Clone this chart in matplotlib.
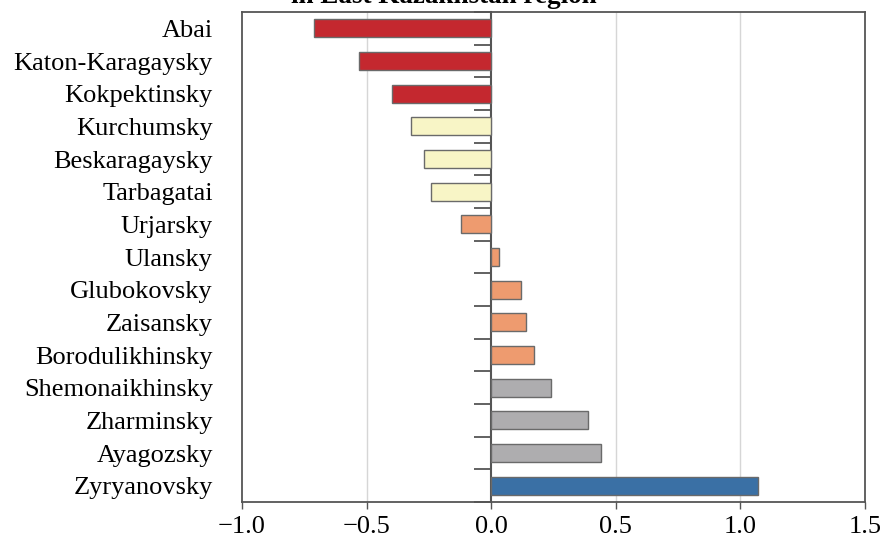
import matplotlib
matplotlib.use('Agg')
import matplotlib.pyplot as plt

# districts, top to bottom
districts = ['Abai', 'Katon-Karagaysky', 'Kokpektinsky', 'Kurchumsky', 'Beskaragaysky',
             'Tarbagatai', 'Urjarsky', 'Ulansky', 'Glubokovsky', 'Zaisansky',
             'Borodulikhinsky', 'Shemonaikhinsky', 'Zharminsky', 'Ayagozsky', 'Zyryanovsky']
values = [-0.71, -0.53, -0.40, -0.32, -0.27, -0.24, -0.12, 0.03, 0.12, 0.14,
          0.17, 0.24, 0.39, 0.44, 1.07]
groups = ['red', 'red', 'red', 'yellow', 'yellow', 'yellow', 'orange', 'orange', 'orange',
          'orange', 'orange', 'gray', 'gray', 'gray', 'blue']

palette = {'red': '#C4282F', 'yellow': '#F8F5C6', 'orange': '#EE9B6F',
           'gray': '#AEADAF', 'blue': '#3A70A5'}

plt.rcParams['font.family'] = ['Liberation Serif', 'DejaVu Serif']

fig = plt.figure(figsize=(8.87, 5.39), dpi=100)
ax = fig.add_axes([0.2728, 0.0686, 0.7024, 0.9091])

ypos = list(range(len(districts)))[::-1]
colors = [palette[g] for g in groups]
ax.barh(ypos, values, height=0.55, color=colors, edgecolor='#6a6a6a', linewidth=1.0, zorder=3)

ax.set_xlim(-1.0, 1.5)
ax.set_ylim(-0.5, len(districts) - 0.5)
ax.set_xticks([-1.0, -0.5, 0.0, 0.5, 1.0, 1.5])
ax.set_xticklabels(['\u22121.0', '\u22120.5', '0.0', '0.5', '1.0', '1.5'])
ax.set_yticks(ypos)
ax.set_yticklabels(districts)
ax.tick_params(axis='y', length=0, pad=21, labelsize=19)
ax.tick_params(axis='x', length=5, width=1, color='#555555', labelsize=19, pad=5)
for x in [-0.5, 0.5, 1.0]:
    ax.axvline(x, color='#d6d6d6', linewidth=1, zorder=1)
for s in ax.spines.values():
    s.set_color('#555555')
    s.set_linewidth(1.3)

# zero axis with ticks between the bars
sec = ax.secondary_yaxis(0.4)
sec.set_yticks([y + 0.5 for y in range(-1, len(districts))])
sec.set_yticklabels([])
sec.tick_params(length=12, width=1.3, color='#555555', direction='out')
sec.spines['left'].set_color('#555555')
sec.spines['left'].set_linewidth(1.5)

fig.text(0.5, 0.9944, 'in East Kazakhstan region', ha='center', va='baseline',
         fontsize=19.5, fontweight='bold')

fig.savefig('out.png', dpi=100)
